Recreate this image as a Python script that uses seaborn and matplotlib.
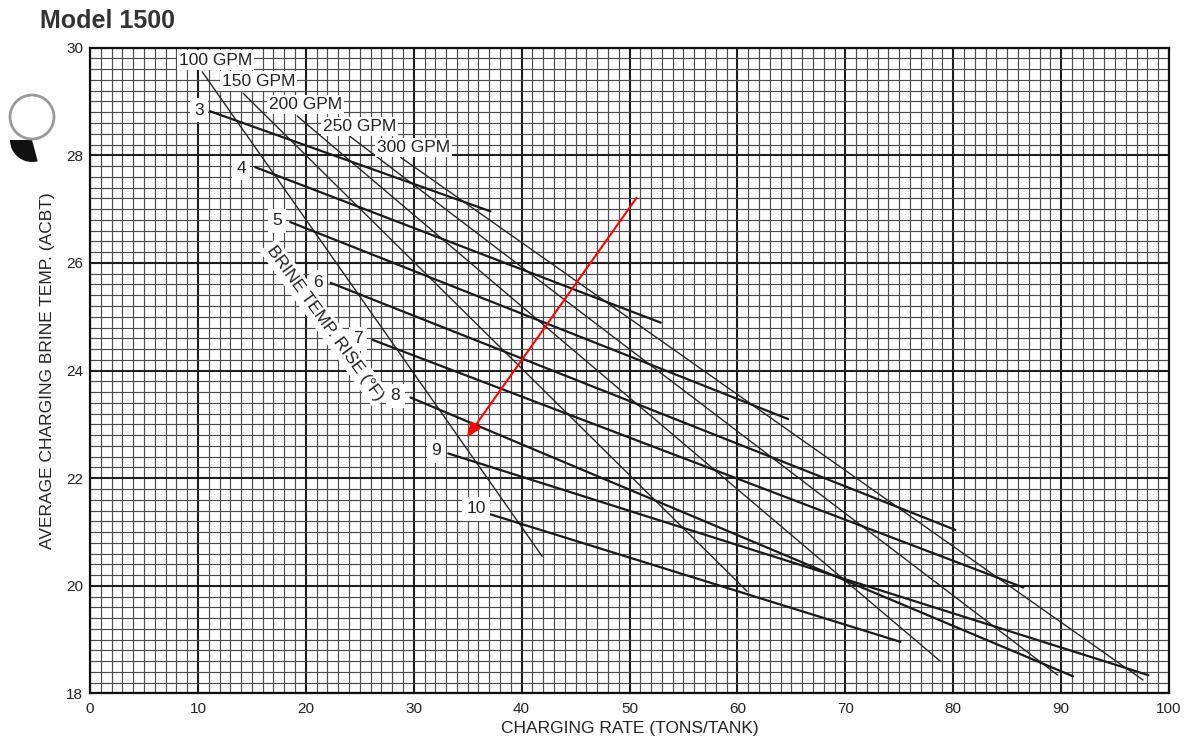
import numpy as np
import pandas as pd
import matplotlib
matplotlib.use("Agg")
import matplotlib.pyplot as plt
from matplotlib.ticker import MultipleLocator
from matplotlib.patches import Circle, Wedge
from matplotlib.transforms import IdentityTransform
import seaborn as sns

# Brine temperature rise lines (deg F): end points as (tons/tank, deg F)
rise_labels = ["3", "4", "5", "6", "7", "8", "9", "10"]
rise_x_start = [11.1, 15.3, 18.55, 22.3, 26.2, 29.7, 33.2, 37.1]
rise_y_start = [28.82, 27.78, 26.76, 25.63, 24.57, 23.50, 22.46, 21.33]
rise_x_end = [37.1, 52.9, 64.7, 80.2, 86.5, 91.1, 98.1, 75.1]
rise_y_end = [26.96, 24.89, 23.10, 21.04, 19.97, 18.32, 18.34, 18.96]
rise_label_x = [10.1, 14.0, 17.35, 21.15, 24.86, 28.3, 32.1, 35.8]
rise_label_y = [28.84, 27.76, 26.78, 25.64, 24.59, 23.53, 22.51, 21.43]

# Brine flow lines (GPM)
gpm_labels = ["100 GPM", "150 GPM", "200 GPM", "250 GPM", "300 GPM"]
gpm_x_start = [10.4, 14.2, 19.2, 24.1, 28.8]
gpm_y_start = [29.55, 29.15, 28.73, 28.35, 27.96]
gpm_x_end = [41.9, 60.9, 78.8, 89.7, 97.6]
gpm_y_end = [20.55, 19.90, 18.60, 18.34, 18.25]
gpm_label_x = [11.6, 15.6, 19.95, 24.95, 29.95]
gpm_label_y = [29.77, 29.38, 28.95, 28.54, 28.15]

# Red pointer arrow
arrow_from = (50.65, 27.21)
arrow_to = (34.9, 22.75)

x_ticks = list(range(0, 101, 10))
y_ticks = [18, 20, 22, 24, 26, 28, 30]


def segments(names, x0, y0, x1, y1):
    rows = []
    for n, a, b, c, d in zip(names, x0, y0, x1, y1):
        rows.append({"line": n, "rate": a, "temp": b})
        rows.append({"line": n, "rate": c, "temp": d})
    return pd.DataFrame(rows)


rise_df = segments(rise_labels, rise_x_start, rise_y_start, rise_x_end, rise_y_end)
gpm_df = segments(gpm_labels, gpm_x_start, gpm_y_start, gpm_x_end, gpm_y_end)

sns.set_style("white")
plt.rcParams["font.family"] = ["Liberation Sans", "DejaVu Sans"]

fig = plt.figure(figsize=(11.96, 7.38), dpi=100)
ax = fig.add_axes([0.0753, 0.0603, 0.9021, 0.8751])

# graph-paper grid
ax.set_xlim(0, 100)
ax.set_ylim(18, 30)
ax.set_xticks(x_ticks)
ax.set_yticks(y_ticks)
ax.xaxis.set_minor_locator(MultipleLocator(1))
ax.yaxis.set_minor_locator(MultipleLocator(0.2))
ax.grid(which="major", color="#1e1e1e", lw=1.5, zorder=0)
ax.grid(which="minor", color="#4c4c4c", lw=0.85, zorder=0)
ax.set_axisbelow(True)
ax.tick_params(which="both", length=0)
ax.tick_params(axis="x", pad=6, labelsize=11, colors="#222222")
ax.tick_params(axis="y", pad=5, labelsize=11, colors="#222222")
for s in ax.spines.values():
    s.set_color("#111111")
    s.set_linewidth(1.6)

sns.lineplot(data=gpm_df, x="rate", y="temp", units="line", estimator=None,
             color="#262626", lw=1.0, legend=False, ax=ax, zorder=2)
sns.lineplot(data=rise_df, x="rate", y="temp", units="line", estimator=None,
             color="#1a1a1a", lw=1.6, legend=False, ax=ax, zorder=3)

box = dict(boxstyle="square,pad=0.12", fc="white", ec="none")
for t, x, y in zip(gpm_labels, gpm_label_x, gpm_label_y):
    ax.text(x, y, t, ha="center", va="center", fontsize=12.5,
            color="#222222", bbox=box, zorder=5)
for t, x, y in zip(rise_labels, rise_label_x, rise_label_y):
    ax.text(x, y, t, ha="center", va="center", fontsize=12.5,
            color="#222222", bbox=dict(boxstyle="square,pad=0.25", fc="white", ec="none"),
            zorder=5)
ax.text(21.8, 24.88, "BRINE TEMP. RISE (\u00b0F)", rotation=-54,
        rotation_mode="anchor", ha="center", va="center", fontsize=12.5,
        color="#222222", bbox=dict(boxstyle="square,pad=0.2", fc="white", ec="none"),
        zorder=5)

ax.annotate("", xy=arrow_to, xytext=arrow_from,
            arrowprops=dict(arrowstyle="-|>,head_length=0.9,head_width=0.35",
                            color="#ff0000", lw=1.5, shrinkA=0, shrinkB=0),
            zorder=6)

ax.set_xlabel("CHARGING RATE (TONS/TANK)", fontsize=12.5, color="#222222", labelpad=4)
ax.set_ylabel("AVERAGE CHARGING BRINE TEMP. (ACBT)", fontsize=12.5, color="#222222",
              labelpad=8)

fig.text(0.0334, 0.988, "Model 1500", fontsize=18, fontweight="bold",
         color="#333333", ha="left", va="top")

# binder hole at the left margin, with its dark shadow underneath
fig.patches.append(Wedge((32, 738 - 140), 22, 180, 285, fc="#111111", ec="none",
                         transform=IdentityTransform(), figure=fig))
fig.patches.append(Circle((32, 738 - 117), 22, fc="white", ec="#9a9a9a", lw=2.0,
                          transform=IdentityTransform(), figure=fig))

fig.savefig("out.png", dpi=100)
